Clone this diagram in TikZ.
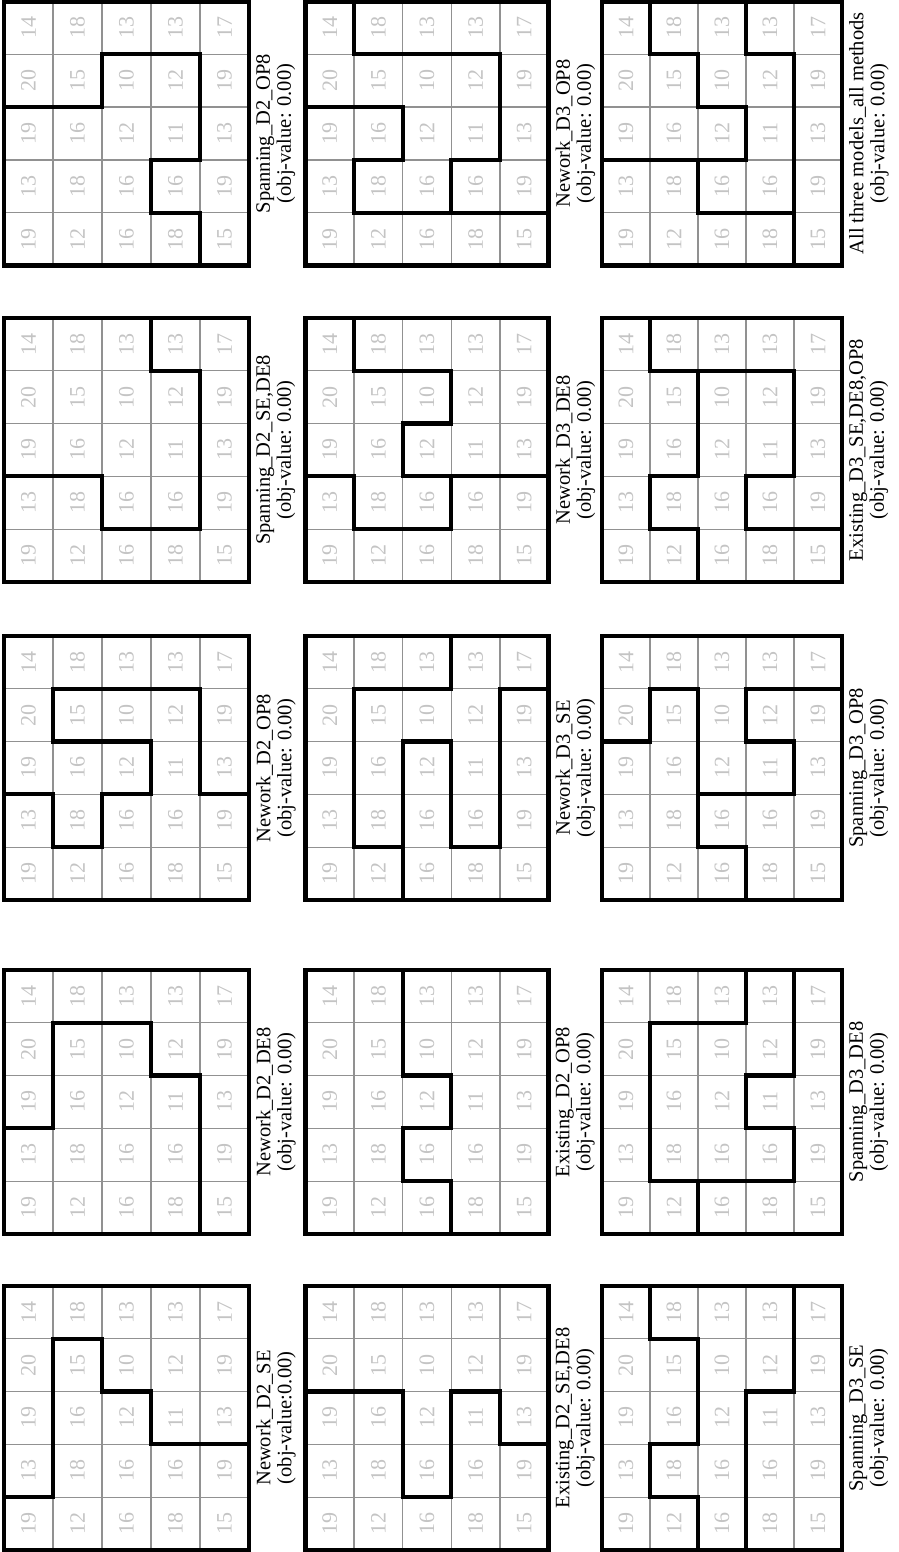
\documentclass[tikz,border=0pt]{standalone}
\usepackage{fontspec}
\setmainfont{Liberation Serif}
\usepackage{tikz}
\definecolor{numgray}{RGB}{196,196,196}
\definecolor{linegray}{RGB}{145,145,145}
\tikzset{
  cellnum/.style={rotate=90, text=numgray, inner sep=0pt, font=\fontsize{22}{22}\selectfont},
  cellgrid/.style={draw=linegray, line width=1.3pt, step=1},
  cutline/.style={draw=black, line width=4.2pt, line cap=rect, line join=miter},
  mapframe/.style={draw=black, line width=4.5pt, line join=miter},
  mapcaption/.style={rotate=90, align=center, inner sep=0pt, anchor=north, font=\fontsize{20.5}{21}\selectfont},
}

% one 5x5 map: name, lower-left corner, cell width, caption, district borders
\newcommand{\districtmap}[5]{%
  \begin{scope}[shift={#2}, x=#3, y=52.8pt]
    \foreach \v [count=\i from 0] in {19,13,19,20,14,12,18,16,15,18,16,16,12,10,13,18,16,11,12,13,15,19,13,19,17}{
      \pgfmathtruncatemacro{\p}{int(\i/5)}
      \pgfmathtruncatemacro{\q}{mod(\i,5)}
      \node[cellnum] (#1-\p-\q) at (\p+0.5,\q+0.5) {\v};
    }
    \draw[cellgrid] (0,0) grid (5,5);
    \draw[cutline] #5;
    \draw[mapframe] (0,0) rectangle (5,5);
    \coordinate (#1-east) at (5,2.5);
  \end{scope}
  \node[mapcaption] (#1-cap) at ([xshift=7pt]#1-east) {#4};
}

\begin{document}
\begin{tikzpicture}[x=1pt, y=1pt]
\useasboundingbox (0,0) rectangle (898,1552);

% left column
\districtmap{spDtwoop}{(4pt,1286.5pt)}{49pt}{Spanning\_D2\_OP8\\(obj-value: 0.00)}
  {(0,3)--(2,3)--(2,4)--(4,4)--(4,2)--(3,2)--(3,1)--(4,1)--(4,0)}
\districtmap{spDtwosede}{(4pt,970pt)}{49pt}{Spanning\_D2\_SE,DE8\\(obj-value: 0.00)}
  {(3,5)--(3,4)--(4,4)--(4,1)--(2,1)--(2,2)--(0,2)}
\districtmap{nwDtwoop}{(4pt,652pt)}{49pt}{Nework\_D2\_OP8\\(obj-value: 0.00)}
  {(0,2)--(1,2)--(1,1)--(2,1)--(2,2)--(3,2)--(3,3)--(1,3)--(1,4)--(4,4)--(4,2)--(5,2)}
\districtmap{nwDtwode}{(4pt,318pt)}{49pt}{Nework\_D2\_DE8\\(obj-value: 0.00)}
  {(0,2)--(1,2)--(1,4)--(3,4)--(3,3)--(4,3)--(4,0)}
\districtmap{nwDtwose}{(4pt,2pt)}{49pt}{Nework\_D2\_SE\\(obj-value:0.00)}
  {(0,1)--(1,1)--(1,4)--(2,4)--(2,3)--(3,3)--(3,2)--(5,2)}

% middle column
\districtmap{nwDthreeop}{(305.5pt,1286.5pt)}{48.6pt}{Nework\_D3\_OP8\\(obj-value: 0.00)}
  {(1,5)--(1,4)--(4,4)--(4,2)--(3,2)--(3,1) (0,3)--(2,3)--(2,2)--(1,2)--(1,1)--(5,1)}
\districtmap{nwDthreede}{(305.5pt,970pt)}{48.6pt}{Nework\_D3\_DE8\\(obj-value: 0.00)}
  {(1,5)--(1,4)--(3,4)--(3,3)--(2,3)--(2,2)--(5,2) (0,2)--(1,2)--(1,1)--(3,1)--(3,2)}
\districtmap{nwDthreese}{(305.5pt,652pt)}{48.6pt}{Nework\_D3\_SE\\(obj-value: 0.00)}
  {(3,5)--(3,4)--(1,4)--(1,1)--(2,1)--(2,0) (2,1)--(2,3)--(3,3)--(3,1)--(4,1)--(4,4)--(5,4)}
\districtmap{exDtwoop}{(305.5pt,318pt)}{48.6pt}{Existing\_D2\_OP8\\(obj-value: 0.00)}
  {(2,5)--(2,3)--(3,3)--(3,2)--(2,2)--(2,1)--(3,1)--(3,0)}
\districtmap{exDtwosede}{(305.5pt,2pt)}{48.6pt}{Existing\_D2\_SE,DE8\\(obj-value: 0.00)}
  {(0,3)--(2,3)--(2,1)--(3,1)--(3,3)--(4,3)--(4,2)--(5,2)}

% right column
\districtmap{allmodels}{(602pt,1286.5pt)}{48pt}{All three models\_all methods\\(obj-value: 0.00)}
  {(1,5)--(1,4)--(2,4)--(2,3)--(3,3)--(3,2)--(0,2) (3,5)--(3,4)--(4,4)--(4,0) (2,2)--(2,1)--(4,1)}
\districtmap{exDthreeall}{(602pt,970pt)}{48pt}{Existing\_D3\_SE,DE8,OP8\\(obj-value: 0.00)}
  {(1,5)--(1,4)--(4,4)--(4,2)--(3,2)--(3,1)--(5,1) (2,4)--(2,2)--(1,2)--(1,1)--(2,1)--(2,0)}
\districtmap{spDthreeop}{(602pt,652pt)}{48pt}{Spanning\_D3\_OP8\\(obj-value: 0.00)}
  {(0,3)--(1,3)--(1,4)--(2,4)--(2,1)--(3,1)--(3,0) (5,4)--(3,4)--(3,3)--(4,3)--(4,2)--(2,2)}
\districtmap{spDthreede}{(602pt,318pt)}{48pt}{Spanning\_D3\_DE8\\(obj-value: 0.00)}
  {(3,5)--(3,4)--(1,4)--(1,1)--(4,1)--(4,2)--(3,2)--(3,3)--(4,3)--(4,5) (2,1)--(2,0)}
\districtmap{spDthreese}{(602pt,2pt)}{48pt}{Spanning\_D3\_SE\\(obj-value: 0.00)}
  {(1,5)--(1,4)--(2,4)--(2,2)--(1,2)--(1,1)--(2,1)--(2,0) (4,5)--(4,3)--(3,3)--(3,0)}
\end{tikzpicture}
\end{document}
